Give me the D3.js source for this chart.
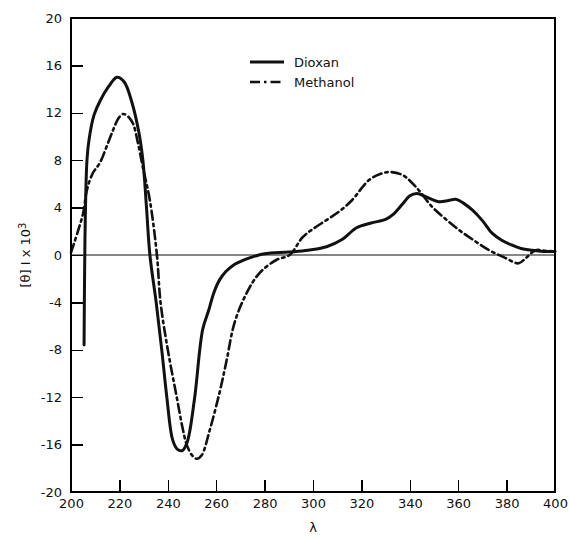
<!DOCTYPE html>
<meta charset="utf-8">
<style>
  body { margin: 0; background: #fff; }
  svg { display: block; }
  .axis text { font: 13px "DejaVu Sans", sans-serif; fill: #111; }
  .label { font: 13px "DejaVu Sans", sans-serif; fill: #111; }
</style>
<body>
<div id="chart"></div>
<script src="https://cdn.jsdelivr.net/npm/d3@7/dist/d3.min.js"></script>
<script>

var width = 569,
    height = 539;

var margin = {top: 18, right: 14, bottom: 47, left: 71};

// wavelength (nm) and [theta] x 10^-3
var dioxanX = [205.4, 205.6, 205.9, 206.6, 207.5, 209.5, 212, 215.5, 219, 222, 225, 228, 229.7, 231.2, 232.6, 235.2, 237.5, 239.6, 242, 244, 246, 248, 251, 254.4, 257, 259, 261.4, 264, 266.8, 271.8, 276, 280, 290, 298, 305.6, 312, 318, 324, 330, 333, 337, 340, 343, 346.8, 352, 356, 359, 362, 365.8, 370, 374, 378, 382, 386, 390.5, 395, 400];
var dioxanY = [-7.6, -2, 3, 8, 9.8, 11.8, 13, 14.2, 15, 14.6, 13, 10.4, 8, 4, 0, -4, -8, -12, -15.6, -16.4, -16.5, -15.8, -12.2, -6.3, -4.6, -3.2, -2.1, -1.4, -0.9, -0.4, -0.1, 0.1, 0.25, 0.4, 0.7, 1.3, 2.3, 2.7, 3.0, 3.4, 4.3, 5.0, 5.2, 4.9, 4.5, 4.6, 4.7, 4.4, 3.8, 2.9, 1.85, 1.25, 0.85, 0.55, 0.4, 0.3, 0.3];

var methanolX = [200, 203, 205, 206.6, 209, 212, 215, 217.5, 219.5, 221.5, 223.5, 225.6, 227.5, 229.7, 232.6, 235.5, 237, 240, 243.7, 246, 247.8, 250, 252, 254, 257.3, 261.4, 264.3, 267.6, 272.6, 278, 285, 290.3, 295.7, 300, 305.6, 311, 316, 323, 328, 331.5, 337, 342.7, 349.3, 355, 360.4, 366, 372.8, 379, 385, 388, 392, 396, 400];
var methanolY = [0.2, 2.1, 3.5, 5.5, 6.9, 7.8, 9.3, 10.6, 11.5, 11.9, 11.7, 11.1, 9.6, 7.4, 4.6, 0, -4, -8, -12, -14.5, -16, -16.9, -17.2, -16.9, -14.8, -11.6, -8.9, -5.7, -3.2, -1.5, -0.4, 0, 1.5, 2.2, 2.95, 3.7, 4.6, 6.3, 6.85, 7.0, 6.75, 5.7, 4.05, 3.0, 2.1, 1.3, 0.4, -0.2, -0.7, -0.25, 0.4, 0.35, 0.3];

var xTicks = [200, 220, 240, 260, 280, 300, 320, 340, 360, 380, 400];
var yTicks = [-20, -16, -12, -8, -4, 0, 4, 8, 12, 16, 20];

var series = [
  {name: "Dioxan", xs: dioxanX, ys: dioxanY, dash: null, w: 3},
  {name: "Methanol", xs: methanolX, ys: methanolY, dash: "9,4,2.5,4", w: 2.6}
];

var x = d3.scaleLinear().domain([200, 400]).range([margin.left, width - margin.right]);
var y = d3.scaleLinear().domain([-20, 20]).range([height - margin.bottom, margin.top]);

var svg = d3.select("#chart").append("svg")
  .attr("width", width)
  .attr("height", height);

// tick labels via axes, ticks pointing inward
var xAxis = svg.append("g")
  .attr("class", "axis")
  .attr("transform", "translate(0," + y(-20) + ")")
  .call(d3.axisBottom(x).tickValues(xTicks).tickSizeInner(-12).tickSizeOuter(0).tickPadding(7)
    .tickFormat(function(d) { return String(d); }));
xAxis.select(".domain").remove();
xAxis.selectAll(".tick line")
  .attr("stroke", "#000")
  .attr("stroke-width", 1.5)
  .attr("shape-rendering", "crispEdges");

var yAxis = svg.append("g")
  .attr("class", "axis")
  .attr("transform", "translate(" + x(200) + ",0)")
  .call(d3.axisLeft(y).tickValues(yTicks).tickSizeInner(-12).tickSizeOuter(0).tickPadding(9)
    .tickFormat(function(d) { return String(d); }));
yAxis.select(".domain").remove();
yAxis.selectAll(".tick line")
  .attr("stroke", "#000")
  .attr("stroke-width", 1.5)
  .attr("shape-rendering", "crispEdges");

// zero line
svg.append("line")
  .attr("x1", x(200)).attr("x2", x(400))
  .attr("y1", y(0)).attr("y2", y(0))
  .attr("stroke", "#111")
  .attr("stroke-width", 1.2);

var line = d3.line()
  .x(function(d) { return x(d[0]); })
  .y(function(d) { return y(d[1]); })
  .curve(d3.curveCatmullRom.alpha(0.5));

series.forEach(function(s) {
  svg.append("path")
    .datum(d3.zip(s.xs, s.ys))
    .attr("d", line)
    .attr("fill", "none")
    .attr("stroke", "#111")
    .attr("stroke-width", s.w)
    .attr("stroke-dasharray", s.dash)
    .attr("stroke-linejoin", "round")
    .attr("stroke-linecap", "round");
});

// frame: four sides drawn as lines, on top of the curves
var sides = [
  [x(200), y(20), x(400), y(20)],
  [x(200), y(-20), x(400), y(-20)],
  [x(200), y(20), x(200), y(-20)],
  [x(400), y(20), x(400), y(-20)]
];
svg.append("g").selectAll("line")
  .data(sides)
  .enter().append("line")
  .attr("x1", function(d) { return d[0]; })
  .attr("y1", function(d) { return d[1]; })
  .attr("x2", function(d) { return d[2]; })
  .attr("y2", function(d) { return d[3]; })
  .attr("stroke", "#000")
  .attr("stroke-width", 2)
  .attr("stroke-linecap", "square")
  .attr("shape-rendering", "crispEdges");

// legend
var legend = svg.append("g").attr("transform", "translate(250,62)");
series.forEach(function(s, i) {
  var g = legend.append("g").attr("transform", "translate(0," + i * 20 + ")");
  g.append("line")
    .attr("x1", 0).attr("x2", 34)
    .attr("stroke", "#111")
    .attr("stroke-width", s.w)
    .attr("stroke-dasharray", s.dash ? "10,4,2.5,4" : null);
  g.append("text")
    .attr("class", "label")
    .attr("x", 44)
    .attr("dy", "0.35em")
    .text(s.name);
});

// axis titles
svg.append("text")
  .attr("class", "label")
  .attr("x", (x(200) + x(400)) / 2)
  .attr("y", 532)
  .attr("text-anchor", "middle")
  .text("λ");

var yl = svg.append("text")
  .attr("class", "label")
  .attr("transform", "translate(30," + y(0) + ") rotate(-90)")
  .attr("text-anchor", "middle");
yl.append("tspan").text("[θ]  I x 10");
yl.append("tspan").attr("dy", "-0.45em").style("font-size", "10px").text("3");

</script>
</body>
